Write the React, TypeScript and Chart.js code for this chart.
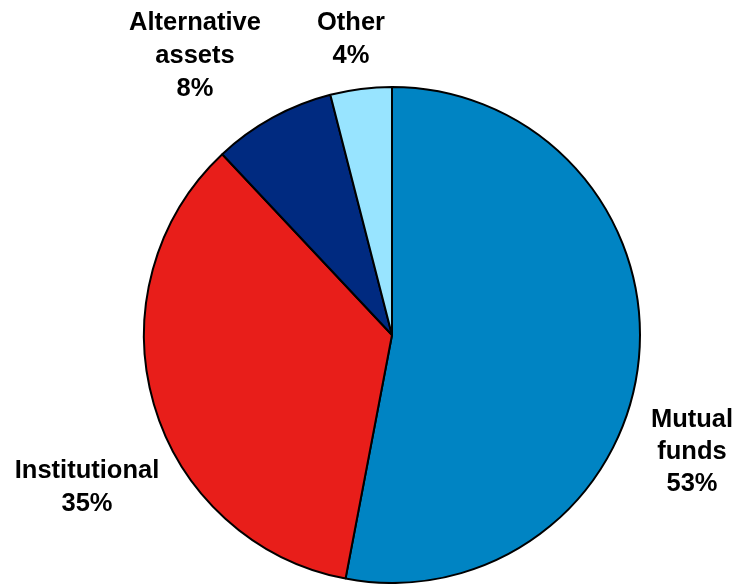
import React, { useEffect, useRef } from "react";
import { Chart, registerables } from "chart.js";

Chart.register(...registerables);

const categories = ["Mutual funds", "Institutional", "Alternative assets", "Other"];
const shares = [53, 35, 8, 4];
const colors = ["#0084C3", "#E81E1A", "#002A80", "#98E4FF"];
const labelLines = [
  ["Mutual", "funds", "53%"],
  ["Institutional", "35%"],
  ["Alternative", "assets", "8%"],
  ["Other", "4%"],
];
const labelAnchors = [
  { x: 692, y: 427, lh: 32 },
  { x: 87, y: 478, lh: 33 },
  { x: 195, y: 30, lh: 33 },
  { x: 351, y: 30, lh: 33 },
];

const labelPlugin = {
  id: "outerLabels",
  afterDraw(chart: any) {
    const ctx = chart.ctx;
    ctx.save();
    ctx.fillStyle = "#000";
    ctx.font = "bold 25.5px 'Liberation Sans', Arial, sans-serif";
    ctx.textAlign = "center";
    ctx.textBaseline = "alphabetic";
    labelLines.forEach((lines, i) => {
      const a = labelAnchors[i];
      lines.forEach((t, j) => ctx.fillText(t, a.x, a.y + j * a.lh));
    });
    ctx.restore();
  },
};

export default function App() {
  const ref = useRef<HTMLCanvasElement | null>(null);
  useEffect(() => {
    if (!ref.current) return;
    const chart = new Chart(ref.current, {
      type: "pie",
      data: {
        labels: categories,
        datasets: [
          {
            data: shares,
            backgroundColor: colors,
            borderColor: "#000",
            borderWidth: 2,
          },
        ],
      },
      options: {
        responsive: false,
        animation: false,
        layout: { padding: { left: 143, right: 97, top: 86, bottom: 0 } },
        plugins: { legend: { display: false }, tooltip: { enabled: false } },
      },
      plugins: [labelPlugin],
    });
    return () => chart.destroy();
  }, []);
  return (
    <div style={{ position: "fixed", left: 0, top: 0, width: 738, height: 584, background: "#fff" }}>
      <canvas ref={ref} width={738} height={584} />
    </div>
  );
}
